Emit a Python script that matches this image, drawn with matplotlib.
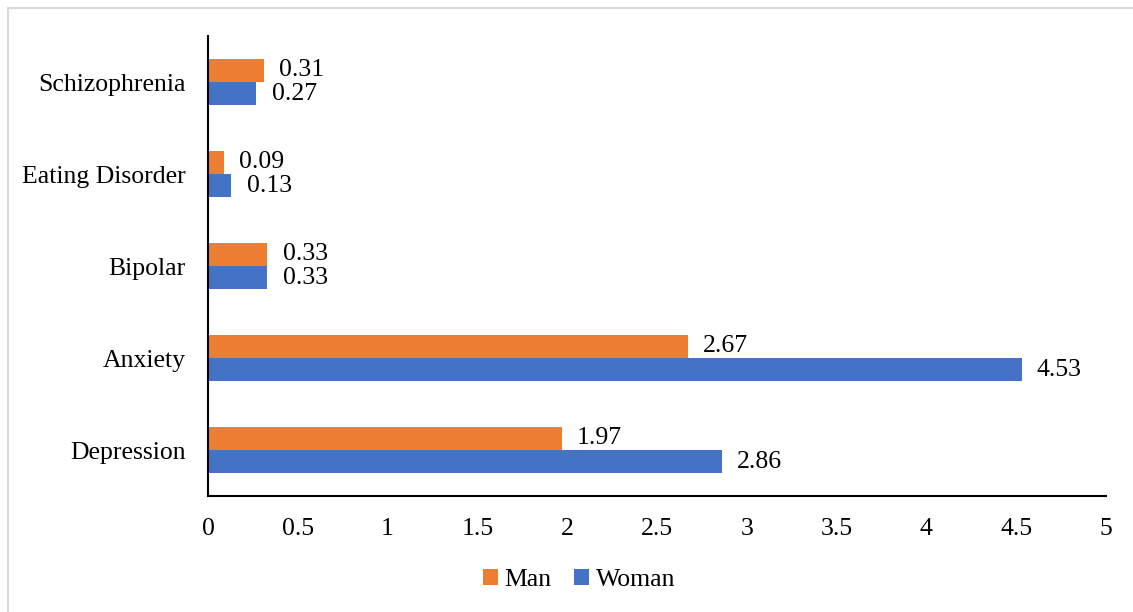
import matplotlib
matplotlib.use("Agg")
import matplotlib.pyplot as plt
from matplotlib.patches import Rectangle
import numpy as np

categories = ["Depression", "Anxiety", "Bipolar", "Eating Disorder", "Schizophrenia"]
man = [1.97, 2.67, 0.33, 0.09, 0.31]
woman = [2.86, 4.53, 0.33, 0.13, 0.27]
xticks = [0, 0.5, 1, 1.5, 2, 2.5, 3, 3.5, 4, 4.5, 5]
xticklabels = ["0", "0.5", "1", "1.5", "2", "2.5", "3", "3.5", "4", "4.5", "5"]

plt.rcParams['font.family'] = ['Liberation Serif', 'DejaVu Serif']
FS = 18.5

fig = plt.figure(figsize=(11.33, 6.12), dpi=100)
ax = fig.add_axes([208/1133, 1-496/612, (1106-208)/1133, (496-36)/612])

# figure border (top/left visible)
fig.patches.append(Rectangle((8/1133, -0.1), 1.2, 1 - 8/612 + 0.1, transform=fig.transFigure,
                             fill=False, edgecolor='#d9d9d9', linewidth=1.5))

y = np.arange(len(categories))
h = 0.25
bm = ax.barh(y + h/2, man, height=h, color='#ED7D31', label='Man')
bw = ax.barh(y - h/2, woman, height=h, color='#4472C4', label='Woman')

for rect, v in zip(bm, man):
    ax.text(v + 0.085, rect.get_y() + rect.get_height()/2, f"{v:.2f}", va='center', ha='left', fontsize=FS)
for rect, v in zip(bw, woman):
    ax.text(v + 0.085, rect.get_y() + rect.get_height()/2, f"{v:.2f}", va='center', ha='left', fontsize=FS)

ax.set_xlim(0, 5)
ax.set_ylim(-0.5, 4.5)
ax.set_xticks(xticks)
ax.set_xticklabels(xticklabels, fontsize=FS)
ax.set_yticks(y)
ax.set_yticklabels(categories, fontsize=FS)
ax.tick_params(length=0)
ax.tick_params(axis='x', pad=16)
ax.tick_params(axis='y', pad=16)
for s in ['top', 'right']:
    ax.spines[s].set_visible(False)
for s in ['left', 'bottom']:
    ax.spines[s].set_color('black')
    ax.spines[s].set_linewidth(1.5)

ax.legend(loc='center', bbox_to_anchor=(579/1133, 1-580/612), bbox_transform=fig.transFigure,
          ncol=2, frameon=False, fontsize=FS, handlelength=0.6, handleheight=0.6,
          handletextpad=0.25, columnspacing=0.85)

fig.savefig("out.png", dpi=100)
